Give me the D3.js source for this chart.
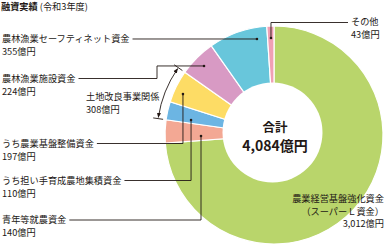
<!DOCTYPE html>
<html lang="ja">
<head>
<meta charset="UTF-8">
<title>融資実績</title>
<script src="https://cdn.jsdelivr.net/npm/d3@7"></script>
<style>
  body { margin: 0; background: #fff; }
  svg { display: block; }
  text { font-family: "Noto Sans CJK JP", "Noto Sans", sans-serif; fill: #231815; }
</style>
</head>
<body>
<svg width="386" height="248"></svg>
<script>
// data (clockwise from 12 o'clock)
const categories = ["農業経営基盤強化資金", "青年等就農資金", "うち担い手育成農地集積資金", "うち農業基盤整備資金", "農林漁業施設資金", "農林漁業セーフティネット資金", "その他"];
const values = [3012, 140, 110, 197, 224, 355, 43];
const amountLabels = ["3,012億円", "140億円", "110億円", "197億円", "224億円", "355億円", "43億円"];
const colors = ["#b9d56b", "#f3a894", "#6cb5e3", "#fddc65", "#d89ac4", "#68c6db", "#f0a0b4"];
const groupName = "土地改良事業関係";
const groupAmount = "308億円";
const groupMembers = [2, 3];
const totalLabel = "4,084億円";

const svg = d3.select("svg");
const cx = 274, cy = 135, R = 109;
const fs = 9.2;

const pie = d3.pie().sort(null).value(d => d)(values);
const arc = d3.arc().innerRadius(0).outerRadius(R);

const g = svg.append("g").attr("transform", `translate(${cx},${cy})`);
g.selectAll("path.slice")
  .data(pie)
  .join("path")
  .attr("class", "slice")
  .attr("d", arc)
  .attr("fill", (d, i) => colors[i])
  .attr("stroke", "#fff")
  .attr("stroke-width", 1.2);

// hole
svg.append("circle").attr("cx", cx - 1.5).attr("cy", cy - 2.5).attr("r", 50).attr("fill", "#fff");

svg.append("text").attr("x", cx + 1).attr("y", 128).attr("dy", "0.35em")
  .attr("text-anchor", "middle").attr("font-size", 12.5).attr("font-weight", "bold").text("合計");
svg.append("text").attr("x", cx + 1).attr("y", 146).attr("dy", "0.35em")
  .attr("text-anchor", "middle").attr("font-size", 14).attr("font-weight", "bold").text(totalLabel);

// title
const title = svg.append("text").attr("x", 1).attr("y", 7).attr("dy", "0.35em").attr("font-size", fs);
title.append("tspan").attr("font-weight", "bold").text("融資実績");
title.append("tspan").text(" (令和3年度)");

// point on a slice: frac along the slice angle, radius r
function spot(i, frac, r) {
  const s = pie[i];
  const a = s.startAngle + frac * (s.endAngle - s.startAngle);
  return [cx + r * Math.sin(a), cy - r * Math.cos(a)];
}

function label(x, y, lines, anchor, step) {
  const t = svg.append("text").attr("font-size", fs).attr("text-anchor", anchor || "start");
  lines.forEach((s, k) => {
    t.append("tspan").attr("x", x).attr("y", y + k * (step || 12.8)).attr("dy", "0.35em").text(s);
  });
  return t;
}

const line = d3.line();
function leader(pts) {
  svg.append("path").attr("d", line(pts)).attr("fill", "none")
    .attr("stroke", "#231815").attr("stroke-width", 0.9);
  const p = pts[pts.length - 1];
  svg.append("circle").attr("cx", p[0]).attr("cy", p[1]).attr("r", 1.3).attr("fill", "#231815");
}

function textEnd(t) { return 2 + t.node().getBBox().width + 3; }

// セーフティネット
{
  const d = spot(5, 0.8, 97.5);
  const t = label(2, d[1], [categories[5], amountLabels[5]]);
  leader([[textEnd(t), d[1]], d]);
}
// その他
{
  const d = spot(6, 0.53, 97);
  label(351, 21.5, [categories[6], amountLabels[6]]);
  leader([[348, 22.5], [d[0], 22.5], d]);
}
// 施設
{
  const d = spot(4, 0.48, 98.3);
  const t = label(2, 78.5, [categories[4], amountLabels[4]]);
  leader([[textEnd(t), 78.5], [157, 78.5], [157, d[1]], d]);
}
// 基盤整備
{
  const d = spot(3, 0.37, 99.8);
  const t = label(2, 143.5, [categories[3], amountLabels[3]]);
  leader([[textEnd(t), 143.5], [d[0], 143.5], d]);
}
// 担い手
{
  const d = spot(2, 0.23, 84.3);
  const t = label(2, 180.5, [categories[2], amountLabels[2]]);
  leader([[textEnd(t), 180.5], [d[0], 180.5], d]);
}
// 青年
{
  const d = spot(1, 0.28, 73);
  const t = label(2, 220, [categories[1], amountLabels[1]]);
  leader([[textEnd(t), 220], [d[0], 220], d]);
}
// スーパーL
label(384, 198.5, [categories[0], "（スーパーＬ資金）", amountLabels[0]], "end", 12.8);

// 土地改良事業関係 bracket
label(86, 96.5, [groupName, groupAmount]);
{
  const a0 = pie[groupMembers[0]].startAngle, a1 = pie[groupMembers[1]].endAngle;
  const rb = 117;
  svg.append("defs").append("marker")
    .attr("id", "ah").attr("viewBox", "0 0 6 6").attr("refX", 5.5).attr("refY", 3)
    .attr("markerWidth", 5).attr("markerHeight", 5).attr("markerUnits", "userSpaceOnUse")
    .attr("orient", "auto-start-reverse")
    .append("path").attr("d", "M0,0.5L6,3L0,5.5Z").attr("fill", "#231815");
  const p = d3.path();
  const b0 = a0 + 0.01 - Math.PI / 2, b1 = a1 - 0.01 - Math.PI / 2;
  p.moveTo(cx + rb * Math.cos(b0), cy + rb * Math.sin(b0));
  p.arc(cx, cy, rb, b0, b1);
  svg.append("path").attr("d", p.toString()).attr("fill", "none")
    .attr("stroke", "#231815").attr("stroke-width", 0.9)
    .attr("marker-start", "url(#ah)").attr("marker-end", "url(#ah)");
  [a0, a1].forEach(a => {
    const b = a - Math.PI / 2;
    svg.append("line")
      .attr("x1", cx + 112 * Math.cos(b)).attr("y1", cy + 112 * Math.sin(b))
      .attr("x2", cx + 122 * Math.cos(b)).attr("y2", cy + 122 * Math.sin(b))
      .attr("stroke", "#231815").attr("stroke-width", 0.9);
  });
}
</script>
</body>
</html>
